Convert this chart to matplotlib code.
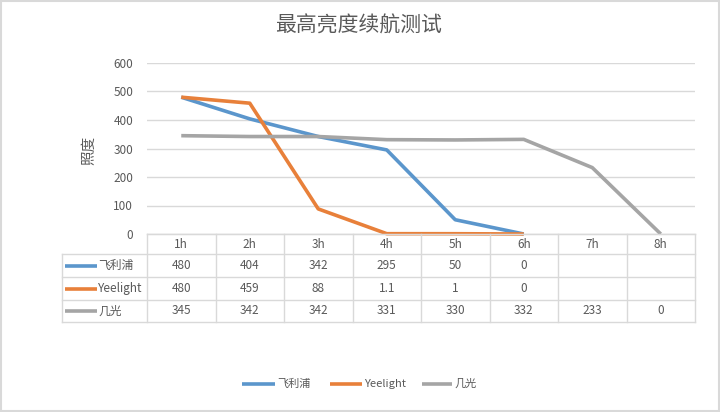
import matplotlib
matplotlib.use("Agg")
import matplotlib.pyplot as plt
from matplotlib.patches import Rectangle

plt.rcParams['font.family'] = ['Noto Sans CJK SC', 'DejaVu Sans']

title = "最高亮度续航测试"
ylabel = "照度"
hours = ["1h", "2h", "3h", "4h", "5h", "6h", "7h", "8h"]
series_names = ["飞利浦", "Yeelight", "几光"]
philips = [480, 404, 342, 295, 50, 0]
yeelight = [480, 459, 88, 1.1, 1, 0]
jiguang = [345, 342, 342, 331, 330, 332, 233, 0]
series_values = [philips, yeelight, jiguang]
colors = ["#5B96CC", "#E8803A", "#A5A5A5"]
yticks = [0, 100, 200, 300, 400, 500, 600]

W, H = 720, 412
fig = plt.figure(figsize=(W / 100, H / 100), dpi=100)
fig.patch.set_facecolor("white")

def fx(px):
    return px / W

def fy(py):
    return 1 - py / H

# figure border
fig.patches.append(Rectangle((0.001, 0.002), 0.997, 0.995, transform=fig.transFigure,
                             fill=False, edgecolor="#D9D9D9", linewidth=1.5))

left, right, top, bottom = 147, 695, 63, 234
ax = fig.add_axes([fx(left), fy(bottom), fx(right - left), fy(top) - fy(bottom)])
ax.set_xlim(0, len(hours))
ax.set_ylim(0, 600)
ax.set_yticks(yticks)
ax.set_xticks([])
for s in ["top", "right", "left"]:
    ax.spines[s].set_visible(False)
ax.spines["bottom"].set_color("#D9D9D9")
ax.grid(axis="y", color="#D9D9D9", linewidth=1)
ax.set_axisbelow(True)
ax.tick_params(axis="y", length=0, labelsize=8.5, labelcolor="#595959", pad=10)

for vals, c in zip(series_values, colors):
    xs = [i + 0.5 for i in range(len(vals))]
    ax.plot(xs, vals, color=c, linewidth=2.6, solid_capstyle="butt", clip_on=False)

fig.text(fx(359), fy(26), title, ha="center", va="center", fontsize=15, color="#595959")
fig.text(fx(89), fy(150), ylabel, ha="center", va="center", rotation=90,
         fontsize=10.5, color="#595959")

# data table
tab = fig.add_axes([0, 0, 1, 1], facecolor="none")
tab.set_xlim(0, W)
tab.set_ylim(H, 0)
tab.axis("off")
grid_c = "#D9D9D9"
row_edges = [234, 254, 277, 300, 322]
tbl_left = 62
colw = (right - left) / len(hours)
tab.plot([left, right], [row_edges[0], row_edges[0]], color=grid_c, lw=1)
for y in row_edges[1:]:
    tab.plot([tbl_left, right], [y, y], color=grid_c, lw=1)
for i in range(len(hours) + 1):
    x = left + i * colw
    tab.plot([x, x], [row_edges[0], row_edges[-1]], color=grid_c, lw=1)
tab.plot([tbl_left, tbl_left], [row_edges[1], row_edges[-1]], color=grid_c, lw=1)

hy = (row_edges[0] + row_edges[1]) / 2
for i, h in enumerate(hours):
    tab.text(left + (i + 0.5) * colw, hy, h, ha="center", va="center",
             fontsize=8.5, color="#595959")

for r, (name, vals, c) in enumerate(zip(series_names, series_values, colors)):
    cy = (row_edges[r + 1] + row_edges[r + 2]) / 2
    tab.plot([65, 97], [cy, cy], color=c, lw=2.6, solid_capstyle="butt")
    tab.text(98, cy, name, ha="left", va="center", fontsize=8.5, color="#595959")
    for i, v in enumerate(vals):
        tab.text(left + (i + 0.5) * colw, cy, f"{v:g}", ha="center", va="center",
                 fontsize=8.5, color="#595959")

# legend
leg_items = [(242, 275, 277), (330, 362, 364), (422, 452, 454)]
for (x0, x1, tx), name, c in zip(leg_items, series_names, colors):
    tab.plot([x0, x1], [384, 384], color=c, lw=2.6, solid_capstyle="butt")
    tab.text(tx, 384, name, ha="left", va="center", fontsize=8, color="#595959")

fig.savefig("out.png", dpi=100, facecolor="white")
